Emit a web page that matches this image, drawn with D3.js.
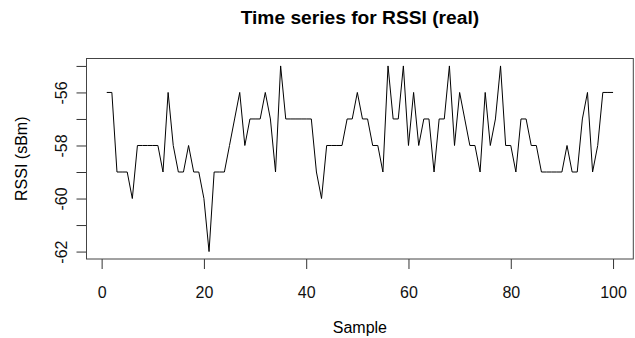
<!DOCTYPE html>
<html>
<head>
<meta charset="utf-8">
<script src="https://cdn.jsdelivr.net/npm/d3@7"></script>
<style>
  body { margin: 0; background: #fff; }
  svg { display: block; font-family: "Liberation Sans", Arial, Helvetica, sans-serif; }
</style>
</head>
<body>
<svg id="chart" width="635" height="338"></svg>
<script>
// RSSI readings, sample 1..100
const rssi = [
  -56, -56, -59, -59, -59, -60, -58, -58, -58, -58,
  -58, -59, -56, -58, -59, -59, -58, -59, -59, -60,
  -62, -59, -59, -59, -58, -57, -56, -58, -57, -57,
  -57, -56, -57, -59, -55, -57, -57, -57, -57, -57,
  -57, -59, -60, -58, -58, -58, -58, -57, -57, -56,
  -57, -57, -58, -58, -59, -55, -57, -57, -55, -58,
  -56, -58, -57, -57, -59, -57, -57, -55, -58, -56,
  -57, -58, -58, -59, -56, -58, -57, -55, -58, -58,
  -59, -57, -57, -58, -58, -59, -59, -59, -59, -59,
  -58, -59, -59, -57, -56, -59, -58, -56, -56, -56
];
const samples = rssi.map((d, i) => i + 1);
const xTicks = [0, 20, 40, 60, 80, 100];
const yTicks = [-62, -61, -60, -59, -58, -57, -56, -55];
const yLabels = [-62, -60, -58, -56];

const svg = d3.select('#chart');
const m = { left: 86.5, right: 633.3, top: 58.5, bottom: 259 };
const fs = 16;

// R style 4% padding on the data range
const xPad = (d3.max(samples) - d3.min(samples)) * 0.04;
const yPad = (d3.max(rssi) - d3.min(rssi)) * 0.04;
const x = d3.scaleLinear()
  .domain([d3.min(samples) - xPad, d3.max(samples) + xPad])
  .range([m.left, m.right]);
const y = d3.scaleLinear()
  .domain([d3.min(rssi) - yPad, d3.max(rssi) + yPad])
  .range([m.bottom, m.top]);

// x axis
const xAxis = svg.append('g')
  .attr('transform', `translate(0,${m.bottom})`)
  .call(d3.axisBottom(x).tickValues(xTicks).tickSize(10).tickFormat(d3.format('d')));
xAxis.select('.domain').remove();
xAxis.selectAll('line').attr('stroke', '#333');
xAxis.selectAll('text')
  .attr('font-size', fs).attr('fill', '#111').attr('font-family', null)
  .attr('y', 38.5).attr('dy', null);

// y axis
const yAxis = svg.append('g')
  .attr('transform', `translate(${m.left},0)`)
  .call(d3.axisLeft(y).tickValues(yTicks).tickSize(10).tickFormat(d => yLabels.includes(d) ? d : ''));
yAxis.select('.domain').remove();
yAxis.selectAll('line').attr('stroke', '#333');
yAxis.selectAll('text')
  .attr('font-size', fs).attr('fill', '#111').attr('font-family', null)
  .attr('text-anchor', 'middle')
  .attr('x', null).attr('dy', null)
  .attr('transform', 'translate(-20,0) rotate(-90)');

// box
svg.append('rect')
  .attr('x', m.left).attr('y', m.top)
  .attr('width', m.right - m.left).attr('height', m.bottom - m.top)
  .attr('fill', 'none').attr('stroke', '#444').attr('stroke-width', 1);

// series
const line = d3.line()
  .x((d, i) => x(samples[i]))
  .y(d => y(d));
svg.append('path')
  .datum(rssi)
  .attr('d', line)
  .attr('fill', 'none')
  .attr('stroke', '#000')
  .attr('stroke-width', 1);

// titles
svg.append('text')
  .attr('x', (m.left + m.right) / 2).attr('y', 24)
  .attr('text-anchor', 'middle')
  .attr('font-size', fs * 1.2).attr('font-weight', 'bold')
  .text('Time series for RSSI (real)');

svg.append('text')
  .attr('x', (m.left + m.right) / 2).attr('y', 332.5)
  .attr('text-anchor', 'middle')
  .attr('font-size', fs)
  .text('Sample');

svg.append('text')
  .attr('transform', `translate(27,${(m.top + m.bottom) / 2}) rotate(-90)`)
  .attr('text-anchor', 'middle')
  .attr('font-size', fs)
  .text('RSSI (sBm)');
</script>
</body>
</html>
